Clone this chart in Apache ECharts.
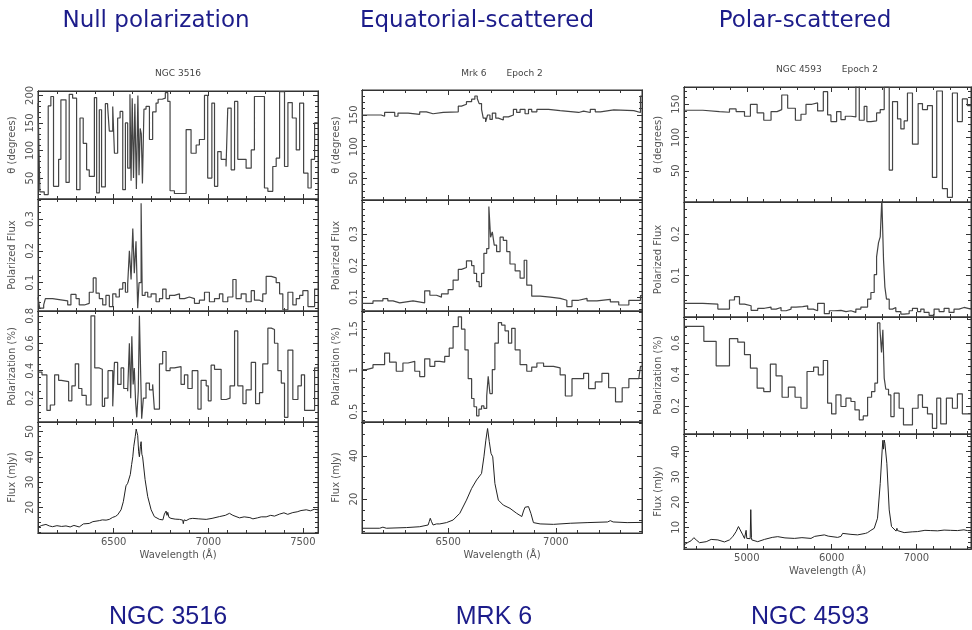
<!DOCTYPE html>
<html>
<head>
<meta charset="utf-8">
<script src="https://cdn.jsdelivr.net/npm/echarts@6/dist/echarts.min.js"></script>
<style>
  html, body { margin: 0; padding: 0; background: #fff; }
  #main { width: 972px; height: 630px; }
</style>
</head>
<body>
<div id="main"></div>
<script>
// ---- NGC 3516 : [bin start (A), value], last bin runs to the axis end ----
var n3516Theta = [[6100,186],[6110,25],[6133,20],[6154,181],[6168,198],[6182,35],[6209,84],[6221,192],[6248,42],[6265,202],[6283,195],[6304,29],[6322,159],[6339,113],[6357,65],[6371,53],[6398,196],[6410,23],[6424,174],[6436,34],[6456,185],[6468,180],[6477,135],[6495,180],[6504,95],[6521,159],[6534,171],[6548,29],[6562,150],[6574,68],[6586,202],[6592,45],[6598,195],[6605,50],[6612,185],[6620,30],[6628,200],[6634,55],[6640,140],[6646,130],[6652,40],[6660,175],[6671,180],[6689,120],[6706,170],[6724,186],[6735,193],[6756,195],[6773,205],[6786,189],[6798,27],[6821,22],[6883,138],[6909,95],[6936,110],[6953,120],[6980,200],[6997,50],[7019,186],[7033,35],[7050,98],[7068,84],[7094,71],[7103,177],[7121,65],[7139,189],[7156,84],[7200,68],[7227,101],[7244,198],[7297,32],[7315,26],[7341,71],[7359,86],[7377,207],[7403,71],[7421,187],[7444,159],[7465,101],[7483,186],[7504,59],[7527,32],[7544,84],[7562,150]];
var n3516PolFlux = [[6100,0.054],[6109,0.02],[6130,0.03],[6139,0.05],[6177,0.047],[6212,0.043],[6257,0.03],[6274,0.063],[6301,0.05],[6318,0.03],[6345,0.035],[6371,0.07],[6392,0.115],[6407,0.067],[6424,0.05],[6442,0.03],[6459,0.06],[6477,0.025],[6495,0.065],[6512,0.055],[6530,0.08],[6548,0.1],[6562,0.07],[6574,0.095],[6583,0.2],[6592,0.11],[6601,0.27],[6609,0.13],[6618,0.23],[6627,0.02],[6634,0.1],[6645,0.35],[6651,0.06],[6666,0.07],[6680,0.055],[6698,0.065],[6724,0.04],[6742,0.05],[6759,0.08],[6777,0.05],[6795,0.06],[6821,0.065],[6848,0.05],[6874,0.055],[6900,0.05],[6927,0.035],[6953,0.045],[6980,0.07],[7006,0.04],[7033,0.05],[7059,0.065],[7077,0.04],[7103,0.055],[7130,0.11],[7147,0.05],[7174,0.065],[7200,0.04],[7227,0.075],[7244,0.045],[7271,0.04],[7288,0.065],[7306,0.12],[7333,0.115],[7359,0.1],[7377,0.065],[7394,0.015],[7421,0.07],[7447,0.03],[7465,0.05],[7483,0.06],[7500,0.075],[7527,0.025],[7562,0.08]];
var n3516Pol = [[6100,0.39],[6121,0.37],[6147,0.11],[6165,0.15],[6188,0.37],[6209,0.33],[6223,0.32],[6262,0.18],[6279,0.29],[6297,0.45],[6315,0.27],[6332,0.22],[6355,0.15],[6380,0.8],[6400,0.42],[6424,0.41],[6440,0.14],[6452,0.2],[6470,0.40],[6495,0.14],[6504,0.46],[6521,0.3],[6539,0.42],[6553,0.27],[6574,0.25],[6583,0.6],[6590,0.2],[6596,0.65],[6603,0.3],[6609,0.42],[6616,0.17],[6622,0.06],[6630,0.25],[6636,0.8],[6642,0.42],[6648,0.05],[6657,0.2],[6671,0.31],[6689,0.26],[6706,0.3],[6715,0.12],[6742,0.45],[6759,0.54],[6777,0.40],[6798,0.42],[6821,0.43],[6856,0.30],[6874,0.37],[6892,0.27],[6915,0.40],[6945,0.12],[6962,0.33],[6989,0.29],[7000,0.18],[7015,0.44],[7033,0.41],[7068,0.19],[7095,0.20],[7115,0.29],[7139,0.69],[7156,0.29],[7183,0.16],[7200,0.26],[7227,0.46],[7250,0.16],[7271,0.24],[7288,0.45],[7315,0.71],[7333,0.70],[7350,0.6],[7368,0.40],[7386,0.31],[7403,0.06],[7421,0.55],[7447,0.19],[7474,0.29],[7492,0.37],[7509,0.11],[7562,0.42]];
var n3516Flux = [[6100,12.1],[6120,12.8],[6142,13.2],[6160,12.6],[6177,12.3],[6200,12.7],[6225,12.4],[6248,12.6],[6270,12.2],[6290,12.8],[6318,12.2],[6340,13.4],[6371,13.6],[6390,14.3],[6400,14.0],[6424,14.7],[6440,15.0],[6460,14.9],[6477,15.2],[6495,16],[6510,16.4],[6521,17],[6539,19],[6551,22.2],[6565,28.5],[6574,29.5],[6588,33],[6595,37],[6601,40],[6606,44],[6610,43.5],[6614,48],[6619,51],[6622,50],[6627,48.5],[6632,42],[6636,40],[6641,44],[6645,46],[6649,41],[6653,40],[6666,31],[6680,24.2],[6698,19],[6715,16.3],[6742,15.2],[6760,15.0],[6768,17.3],[6777,18.5],[6782,16.8],[6786,18],[6792,16],[6803,15.6],[6825,15.3],[6848,15.2],[6865,14.9],[6868,13.5],[6872,15.0],[6883,14.7],[6900,15.4],[6918,15.6],[6950,15.4],[6989,15.2],[7020,15.6],[7059,16.3],[7090,16.8],[7112,17.6],[7130,16.8],[7165,15.8],[7190,16.2],[7200,15.5],[7220,15.9],[7236,15.4],[7260,15.8],[7280,16.2],[7306,16.2],[7330,16.8],[7350,16.5],[7377,17.3],[7400,17.8],[7420,17.2],[7447,17.9],[7470,18.2],[7490,18.7],[7518,19],[7540,18.6],[7560,19.2],[7580,19.0]];

// ---- Mrk 6 ----
var mrk6Theta = [[6100,150],[6189,148],[6205,154],[6252,148],[6267,153],[6314,151],[6368,155],[6399,152],[6430,154],[6477,155],[6547,164],[6562,167],[6585,171],[6609,175],[6624,180],[6635,176],[6644,168],[6655,159],[6663,145],[6674,139],[6683,150],[6694,143],[6705,153],[6721,145],[6733,142],[6756,147],[6780,150],[6803,159],[6818,154],[6834,159],[6857,152],[6873,159],[6888,155],[6912,159],[6966,157],[7020,154],[7106,156],[7129,154],[7160,159],[7183,155],[7207,158],[7269,157],[7362,154],[7393,180]];
var mrk6PolFlux = [[6100,0.08],[6151,0.088],[6197,0.095],[6220,0.088],[6244,0.082],[6275,0.088],[6337,0.082],[6391,0.12],[6415,0.106],[6446,0.1],[6469,0.11],[6500,0.124],[6523,0.154],[6547,0.188],[6562,0.194],[6585,0.215],[6609,0.2],[6620,0.175],[6632,0.149],[6644,0.133],[6655,0.175],[6666,0.239],[6679,0.254],[6689,0.387],[6697,0.29],[6705,0.307],[6714,0.265],[6725,0.244],[6741,0.29],[6756,0.28],[6772,0.244],[6787,0.205],[6811,0.183],[6834,0.16],[6853,0.217],[6865,0.138],[6888,0.103],[6927,0.1],[6974,0.096],[7020,0.09],[7051,0.07],[7075,0.09],[7106,0.096],[7145,0.088],[7191,0.093],[7253,0.085],[7292,0.075],[7339,0.09],[7393,0.105]];
var mrk6Pol = [[6100,1.01],[6120,1.03],[6151,1.07],[6205,1.21],[6228,1.10],[6259,0.99],[6290,1.09],[6314,1.11],[6345,0.99],[6368,0.925],[6391,1.14],[6415,1.05],[6438,1.11],[6461,1.10],[6484,1.17],[6505,1.27],[6523,1.53],[6547,1.65],[6562,1.5],[6578,1.25],[6593,0.90],[6609,0.66],[6620,0.56],[6632,0.45],[6643,0.53],[6655,0.57],[6666,0.54],[6679,0.69],[6686,0.93],[6694,0.72],[6705,1.01],[6717,1.33],[6733,1.58],[6748,1.55],[6764,1.48],[6780,1.33],[6795,1.51],[6811,1.25],[6834,1.07],[6865,0.99],[6888,1.04],[6912,1.09],[6943,1.05],[6989,1.03],[7020,0.945],[7044,0.69],[7075,0.90],[7129,0.965],[7152,0.78],[7183,0.86],[7214,0.965],[7245,0.79],[7277,0.62],[7308,0.79],[7339,0.90],[7385,0.88],[7393,1.05]];
var mrk6Flux = [[6100,6.5],[6182,6.5],[6197,7.0],[6213,6.5],[6306,6.8],[6368,7.2],[6407,8],[6412,9.5],[6417,11.1],[6423,9.5],[6430,8],[6446,8.5],[6453,9.1],[6461,8.5],[6492,9.1],[6523,10.3],[6554,13.4],[6585,19.5],[6609,24.9],[6632,28.8],[6655,31.8],[6666,39.5],[6675,47.2],[6683,52.6],[6691,46.5],[6699,41.1],[6707,39.5],[6717,27.2],[6733,19.5],[6756,17.2],[6787,15.7],[6818,13.4],[6842,11.9],[6850,14.5],[6857,16.2],[6873,16.5],[6884,13.4],[6896,9.1],[6927,8.5],[6989,8.3],[7067,8.8],[7145,9.1],[7240,9.4],[7253,10],[7266,9.4],[7331,9.1],[7400,9.2]];

// ---- NGC 4593 ----
var n4593Theta = [[4260,141],[4482,139],[4678,138],[4796,143],[4874,139],[4973,132],[5043,150],[5122,137],[5200,126],[5286,139],[5357,142],[5412,164],[5482,144],[5573,126],[5639,135],[5698,150],[5769,152],[5835,140],[5902,169],[5953,134],[5992,124],[6059,139],[6110,127],[6161,132],[6228,131],[6286,178],[6326,126],[6384,147],[6416,124],[6463,125],[6530,137],[6573,142],[6620,176],[6679,51],[6718,154],[6777,128],[6816,113],[6855,125],[6894,167],[6953,90],[7020,151],[7071,142],[7130,148],[7188,40],[7239,170],[7306,23],[7365,10],[7424,167],[7483,124],[7541,158],[7600,148]];
var n4593PolFlux = [[4260,0.033],[4482,0.031],[4659,0.019],[4796,0.041],[4855,0.049],[4914,0.031],[4973,0.027],[5051,0.016],[5129,0.021],[5208,0.024],[5286,0.019],[5345,0.023],[5404,0.015],[5463,0.019],[5522,0.024],[5580,0.025],[5659,0.027],[5718,0.019],[5784,0.015],[5835,0.033],[5914,0.008],[5973,0.015],[6031,0.016],[6110,0.013],[6169,0.015],[6228,0.011],[6286,0.019],[6345,0.024],[6424,0.043],[6463,0.059],[6502,0.102],[6530,0.145],[6553,0.179],[6573,0.193],[6592,0.285],[6612,0.137],[6628,0.072],[6647,0.043],[6679,0.019],[6718,0.023],[6757,0.013],[6816,0.007],[6855,0.008],[6914,0.015],[6953,0.021],[7012,0.013],[7051,0.019],[7090,0.011],[7149,0.004],[7208,0.019],[7267,0.013],[7326,0.021],[7384,0.011],[7443,0.019],[7502,0.023],[7561,0.019]];
var n4593Pol = [[4260,0.706],[4494,0.611],[4639,0.455],[4796,0.628],[4894,0.606],[4973,0.526],[5043,0.44],[5122,0.313],[5200,0.291],[5278,0.466],[5345,0.391],[5416,0.255],[5490,0.319],[5569,0.255],[5639,0.185],[5710,0.419],[5788,0.447],[5843,0.398],[5902,0.489],[5953,0.217],[6000,0.149],[6051,0.27],[6110,0.196],[6169,0.249],[6228,0.228],[6275,0.174],[6326,0.111],[6373,0.136],[6424,0.255],[6471,0.291],[6510,0.345],[6541,0.728],[6569,0.696],[6588,0.54],[6604,0.685],[6620,0.377],[6639,0.306],[6671,0.27],[6698,0.132],[6737,0.281],[6796,0.185],[6847,0.079],[6953,0.185],[7020,0.27],[7071,0.191],[7130,0.149],[7188,0.057],[7239,0.249],[7286,0.085],[7353,0.249],[7424,0.185],[7483,0.277],[7541,0.149]];
var n4593Flux = [[4260,3],[4306,4.0],[4345,4.7],[4376,5.9],[4404,5],[4443,3.9],[4522,4.3],[4580,5.2],[4659,5],[4737,4.2],[4796,5],[4835,6.3],[4874,8.3],[4902,10.3],[4925,9.6],[4953,7],[4973,5.6],[4985,6],[4992,8.8],[5000,5.6],[5012,5],[5040,5.5],[5047,17],[5051,16.9],[5055,6],[5059,5],[5129,4.3],[5208,5.2],[5300,6.0],[5365,6.3],[5450,5.8],[5561,5.6],[5650,5.9],[5757,5.6],[5800,6.4],[5914,7],[5960,6.5],[6071,6],[6110,6.4],[6130,7.6],[6149,7.0],[6228,7.2],[6306,7],[6400,7.6],[6424,7.9],[6463,8.8],[6502,9.6],[6541,13.6],[6573,27.4],[6596,40.7],[6604,44.5],[6612,41],[6620,44.6],[6628,43.3],[6651,35.4],[6679,16.9],[6706,10.3],[6760,8.5],[6770,9.6],[6777,8.7],[6855,7.9],[6950,8.2],[7012,8.3],[7100,8.8],[7169,8.7],[7250,8.6],[7326,8.9],[7400,8.8],[7483,8.7],[7560,9.0],[7581,9.6],[7600,8.7],[7643,8.7]];

// ---- tick labels ----
var xTicks3516 = [6500, 7000, 7500];
var xTicksMrk6 = [6500, 7000];
var xTicks4593 = [5000, 6000, 7000];
var yTicks3516 = [[50,100,150,200],[0.1,0.2,0.3],[0.2,0.4,0.6,0.8],[20,30,40,50]];
var yTicksMrk6 = [[50,100,150],[0.1,0.2,0.3],[0.5,1,1.5],[20,40]];
var yTicks4593 = [[50,100,150],[0.1,0.2],[0.2,0.4,0.6],[10,20,30,40]];
var yNames = ['θ (degrees)', 'Polarized Flux', 'Polarization (%)', 'Flux (mJy)'];

var columns = [
  { left: 38, width: 280, xMin: 6100, xMax: 7580, xTicks: xTicks3516, xMinor: 100,
    tops: [91, 199, 311, 422, 533], yTicks: yTicks3516,
    rows: [
      { min: 12, max: 208, minor: 10, data: n3516Theta, step: true },
      { min: 0.011, max: 0.363, minor: 0.02, data: n3516PolFlux, step: true },
      { min: 0.026, max: 0.835, minor: 0.05, data: n3516Pol, step: true },
      { min: 9.8, max: 53.8, minor: 2, data: n3516Flux, step: false }
    ] },
  { left: 362, width: 280, xMin: 6100, xMax: 7400, xTicks: xTicksMrk6, xMinor: 100,
    tops: [90, 200, 311, 422, 533], yTicks: yTicksMrk6,
    rows: [
      { min: 15.7, max: 189.5, minor: 10, data: mrk6Theta, step: true },
      { min: 0.056, max: 0.408, minor: 0.02, data: mrk6PolFlux, step: true },
      { min: 0.375, max: 1.72, minor: 0.1, data: mrk6Pol, step: true },
      { min: 4.3, max: 55.6, minor: 5, data: mrk6Flux, step: false }
    ] },
  { left: 684, width: 287, xMin: 4260, xMax: 7643, xTicks: xTicks4593, xMinor: 200,
    tops: [87, 202, 317, 434, 549], yTicks: yTicks4593,
    rows: [
      { min: 3, max: 176, minor: 10, data: n4593Theta, step: true },
      { min: 0, max: 0.277, minor: 0.02, data: n4593PolFlux, step: true },
      { min: 0.021, max: 0.766, minor: 0.05, data: n4593Pol, step: true },
      { min: 1.4, max: 47, minor: 2, data: n4593Flux, step: false }
    ] }
];

var INK = '#333';
var LABEL = '#555';
var FONT = 'DejaVu Sans';

function minorValues(min, max, step) {
  var out = [];
  for (var v = Math.ceil(min / step) * step; v <= max + 1e-9; v += step) out.push(+v.toFixed(4));
  return out;
}
function stepData(pairs, end) {
  var d = pairs.map(function (p) { return [p[0], p[1]]; });
  d.push([end, pairs[pairs.length - 1][1]]);
  return d;
}
function plain(v) { return String(+v.toFixed(3)); }

var grid = [], xAxis = [], yAxis = [], series = [];

columns.forEach(function (col) {
  col.rows.forEach(function (row, r) {
    var g = grid.length;
    var top = col.tops[r], h = col.tops[r + 1] - top;
    var last = r === col.rows.length - 1;
    grid.push({ left: col.left, top: top, width: col.width, height: h,
      show: true, borderColor: INK, borderWidth: 1, backgroundColor: 'transparent' });

    var xMinors = minorValues(col.xMin, col.xMax, col.xMinor);
    var yMinors = minorValues(row.min, row.max, row.minor);
    var xi = xAxis.length;
    ['bottom', 'top'].forEach(function (pos) {
      [true, false].forEach(function (major) {
        var labelled = major && pos === 'bottom' && last;
        xAxis.push({
          gridIndex: g, type: 'value', min: col.xMin, max: col.xMax, position: pos,
          axisLine: { show: true, lineStyle: { color: INK, width: 1 } },
          splitLine: { show: false },
          axisTick: { show: true, inside: true, length: major ? 5 : 3,
            customValues: major ? col.xTicks : xMinors, lineStyle: { color: INK, width: 1 } },
          axisLabel: { show: labelled, customValues: col.xTicks, color: LABEL, formatter: plain,
            fontFamily: FONT, fontSize: 10, margin: 4 },
          name: labelled ? 'Wavelength (Å)' : '', nameLocation: 'middle', nameGap: 17,
          nameTextStyle: { color: LABEL, fontFamily: FONT, fontSize: 10 }
        });
      });
    });
    var yi = yAxis.length;
    ['left', 'right'].forEach(function (pos) {
      [true, false].forEach(function (major) {
        var labelled = major && pos === 'left';
        yAxis.push({
          gridIndex: g, type: 'value', min: row.min, max: row.max, position: pos,
          axisLine: { show: true, lineStyle: { color: INK, width: 1 } },
          splitLine: { show: false },
          axisTick: { show: true, inside: true, length: major ? 5 : 3,
            customValues: major ? col.yTicks[r] : yMinors, lineStyle: { color: INK, width: 1 } },
          axisLabel: { show: labelled, customValues: col.yTicks[r], rotate: 90, color: LABEL,
            formatter: plain, fontFamily: FONT, fontSize: 10, margin: 3 },
          name: labelled ? yNames[r] : '', nameLocation: 'middle', nameGap: 21,
          nameTextStyle: { color: LABEL, fontFamily: FONT, fontSize: 10 }
        });
      });
    });

    series.push({
      type: 'line', xAxisIndex: xi, yAxisIndex: yi,
      data: row.step ? stepData(row.data, col.xMax) : row.data,
      step: row.step ? 'end' : false,
      showSymbol: false, symbol: 'none', silent: true,
      lineStyle: { color: row.step ? '#444' : '#222', width: row.step ? 1.2 : 1 }
    });
  });
});

var NAVY = '#1c1c8a';
function label(text, x, y, font, color) {
  return { type: 'text', x: x, y: y, silent: true,
    style: { text: text, align: 'center', verticalAlign: 'middle', font: font, fill: color } };
}

var chart = echarts.init(document.getElementById('main'));
chart.setOption({
  animation: false,
  backgroundColor: '#fff',
  grid: grid, xAxis: xAxis, yAxis: yAxis, series: series,
  graphic: [
    label('Null polarization', 156, 21, '23px "DejaVu Sans"', NAVY),
    label('Equatorial-scattered', 477, 21, '23px "DejaVu Sans"', NAVY),
    label('Polar-scattered', 805, 21, '23px "DejaVu Sans"', NAVY),
    label('NGC 3516', 178, 74, '9px "DejaVu Sans"', '#444'),
    label('Mrk 6       Epoch 2', 502, 74, '9px "DejaVu Sans"', '#444'),
    label('NGC 4593       Epoch 2', 827, 70, '9px "DejaVu Sans"', '#444'),
    label('NGC 3516', 168, 617, '25px "Liberation Sans"', NAVY),
    label('MRK 6', 494, 617, '25px "Liberation Sans"', NAVY),
    label('NGC 4593', 810, 617, '25px "Liberation Sans"', NAVY)
  ]
});
</script>
</body>
</html>
